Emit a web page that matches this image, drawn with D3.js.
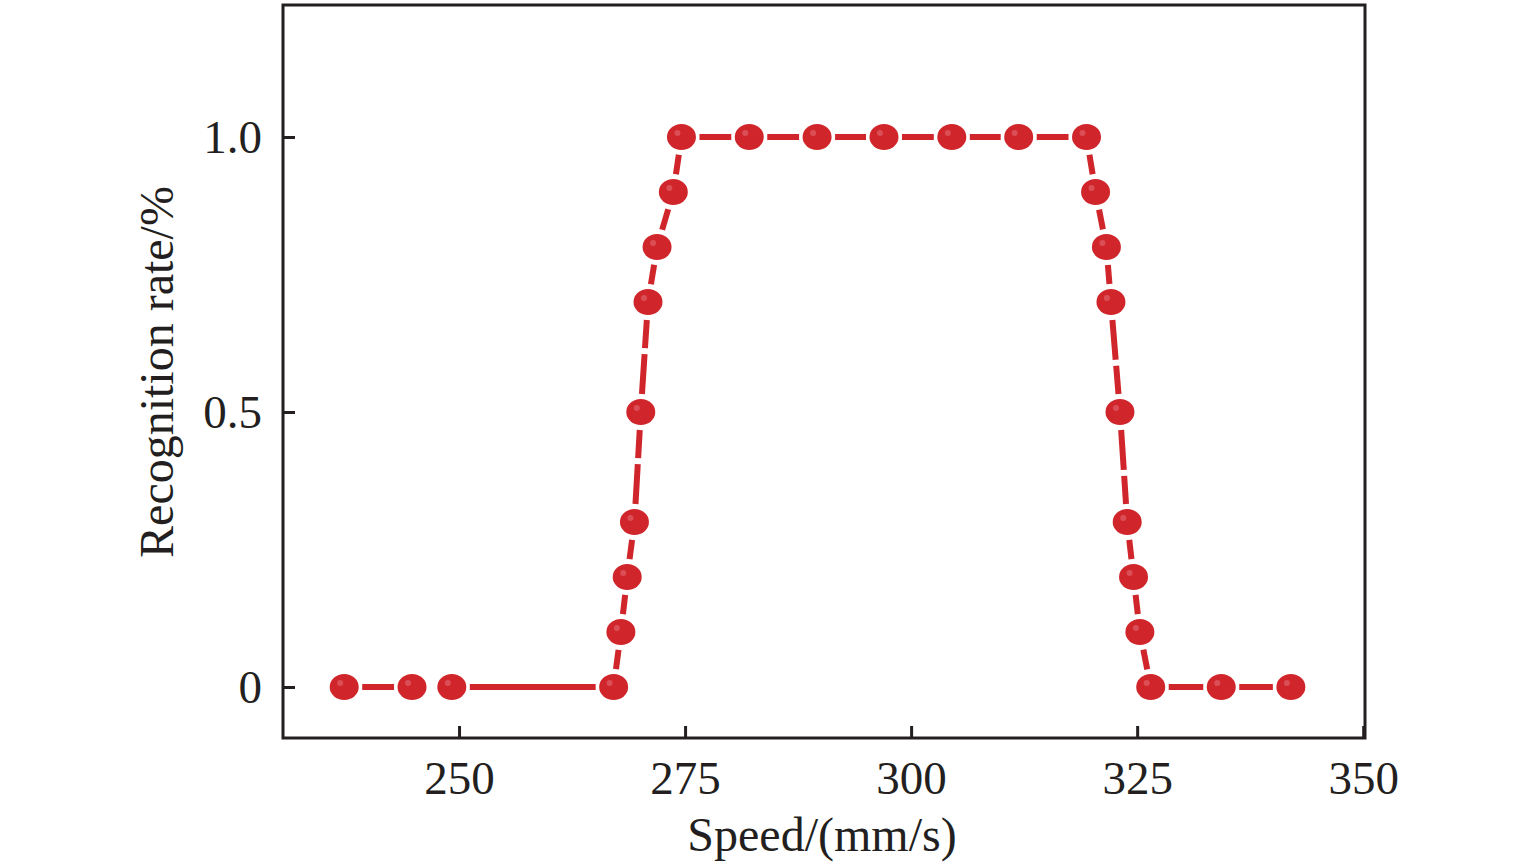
<!DOCTYPE html>
<html><head><meta charset="utf-8">
<script src="https://cdn.jsdelivr.net/npm/d3@7"></script>
<style>body{margin:0;background:#fff}svg{display:block}</style>
</head><body>
<svg id="c" width="1535" height="868"></svg>
<script>
const speeds = [237.3,244.8,249.2,267.1,267.9,268.6,269.4,270.1,270.9,271.9,273.7,274.6,282.1,289.6,297.0,304.5,311.9,319.4,320.4,321.6,322.1,323.1,323.9,324.6,325.3,326.5,334.3,342.0];
const rates  = [0,0,0,0,0.1,0.2,0.3,0.5,0.7,0.8,0.9,1.0,1.0,1.0,1.0,1.0,1.0,1.0,0.9,0.8,0.7,0.5,0.3,0.2,0.1,0,0,0];
const xTicks = [250,275,300,325,350];
const yTicks = [0,0.5,1.0];
const yTickLabels = ["0","0.5","1.0"];
const xTitle = "Speed/(mm/s)";
const yTitle = "Recognition rate/%";

const svg = d3.select("#c");
const L=283,R=1365,T=5,B=738;
const x = d3.scaleLinear().domain([230.53,350.2]).range([L,R]);
const y = d3.scaleLinear().domain([-0.0927,1.24]).range([B,T]);
const font = "'Liberation Serif','Times New Roman',serif";
const ink = "#231f20", red = "#d0262b";

const gx = svg.append("g").attr("transform",`translate(0,${B})`)
  .call(d3.axisBottom(x).tickValues(xTicks).tickSize(-12).tickPadding(23).tickFormat(d3.format("d")));
const gy = svg.append("g").attr("transform",`translate(${L},0)`)
  .call(d3.axisLeft(y).tickValues(yTicks).tickSize(-12).tickPadding(21).tickFormat((d,i)=>yTickLabels[i]));
[gx,gy].forEach(g=>{
  g.select(".domain").remove();
  g.selectAll("line").attr("stroke",ink).attr("stroke-width",3);
  g.selectAll("text").attr("font-family",font).attr("font-size",47).attr("fill",ink);
});
gx.selectAll("text").attr("dy","0.71em");
gy.selectAll("text").attr("dy","0.34em");

svg.append("rect").attr("x",L).attr("y",T).attr("width",R-L).attr("height",B-T)
  .attr("fill","none").attr("stroke",ink).attr("stroke-width",3);

const pts = speeds.map((s,i)=>[x(s),y(rates[i])]);
const gap = 18;
const segG = svg.append("g");
for(let i=0;i<pts.length-1;i++){
  const [x1,y1]=pts[i],[x2,y2]=pts[i+1];
  const dx=x2-x1, dy=y2-y1, len=Math.hypot(dx,dy);
  if(len<=2*gap+10) continue;
  const ux=dx/len, uy=dy/len;
  segG.append("line")
    .attr("x1",x1+ux*gap).attr("y1",y1+uy*gap)
    .attr("x2",x2-ux*gap).attr("y2",y2-uy*gap)
    .attr("stroke",red).attr("stroke-width",6)
    .attr("stroke-dasharray", len>150 ? null : "40,6");
}

const mk = svg.append("g");
mk.selectAll("ellipse").data(speeds).join("ellipse")
  .attr("cx",d=>x(d)).attr("cy",(d,i)=>y(rates[i]))
  .attr("rx",14.5).attr("ry",13).attr("fill",red);
mk.selectAll("circle").data(speeds).join("circle")
  .attr("cx",d=>x(d)-4).attr("cy",(d,i)=>y(rates[i])-4)
  .attr("r",3).attr("fill","#e0606a").attr("opacity",0.7);

svg.append("text").attr("x",822).attr("y",851).attr("text-anchor","middle")
  .attr("font-family",font).attr("font-size",48).attr("fill",ink).text(xTitle);
svg.append("text").attr("transform","translate(173,372) rotate(-90)").attr("text-anchor","middle")
  .attr("font-family",font).attr("font-size",48).attr("fill",ink).text(yTitle);
</script>
</body></html>
